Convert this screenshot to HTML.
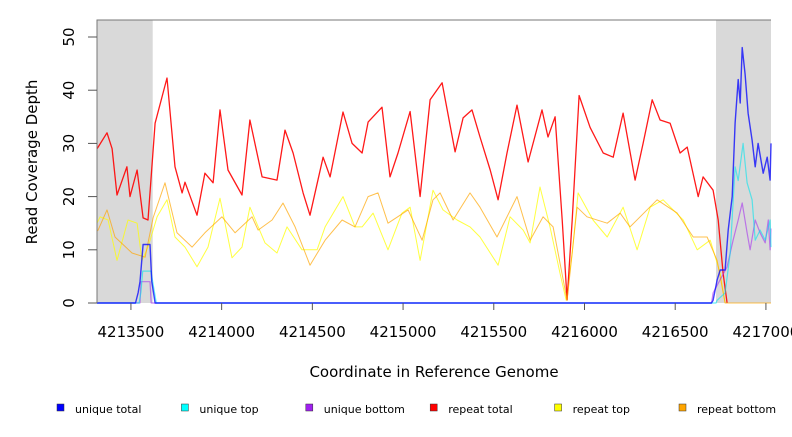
<!DOCTYPE html>
<html><head><meta charset="utf-8"><style>
body{margin:0;background:#fff;width:792px;height:432px;overflow:hidden;font-family:"Liberation Sans","DejaVu Sans",sans-serif}
svg text{font-family:"DejaVu Sans","Liberation Sans",sans-serif}
</style></head><body>
<svg id="chart" width="792" height="432" xmlns="http://www.w3.org/2000/svg">
<rect width="792" height="432" fill="#fff"/>
<g id="shade"></g>
<g id="series" fill="none"></g>
<g id="axes"></g>
<text transform="translate(37,162) rotate(-90)" text-anchor="middle" font-size="15">Read Coverage Depth</text>
<text x="434" y="377" text-anchor="middle" font-size="15">Coordinate in Reference Genome</text>
<g id="legend" font-size="11"></g>
</svg>
<script>
const xTicks=[4213500,4214000,4214500,4215000,4215500,4216000,4216500,4217000];
const yTicks=[0,10,20,30,40,50];
const shadeRanges=[[4213313,4213620],[4216725,4217028]];
const redX=[4213313,4213319,4213368,4213396,4213423,4213478,4213495,4213534,4213567,4213594,4213633,4213699,4213743,4213782,4213798,4213864,4213908,4213953,4213991,4214035,4214112,4214156,4214223,4214305,4214349,4214394,4214449,4214487,4214559,4214598,4214669,4214719,4214774,4214807,4214884,4214928,4214972,4215039,4215094,4215149,4215215,4215287,4215331,4215380,4215424,4215480,4215524,4215573,4215628,4215689,4215766,4215799,4215838,4215877,4215904,4215932,4215970,4216031,4216103,4216158,4216213,4216279,4216323,4216373,4216417,4216472,4216527,4216566,4216627,4216654,4216709,4216737,4216764,4216786];
const redY=[29,29.3,32,29,20.3,25.6,20,25,16,15.6,33.8,42.3,25.6,20.7,22.7,16.5,24.4,22.6,36.3,25,20.3,34.4,23.7,23.1,32.5,28.2,20.7,16.5,27.4,23.7,35.9,30,28.2,34,36.8,23.7,28.2,36,20,38.2,41.4,28.4,34.8,36.3,31.2,25,19.4,28.2,37.2,26.5,36.3,31.2,35,15.6,0.6,15.6,39,33,28.2,27.4,35.7,23.1,30,38.2,34.4,33.8,28.2,29.3,20,23.7,21.2,15.6,5.6,0];
const orangeX=[4213313,4213319,4213368,4213412,4213506,4213578,4213622,4213688,4213754,4213837,4213908,4214002,4214074,4214168,4214201,4214278,4214338,4214405,4214487,4214570,4214664,4214735,4214807,4214862,4214917,4215028,4215105,4215165,4215204,4215276,4215369,4215424,4215518,4215628,4215700,4215772,4215827,4215904,4215959,4216014,4216125,4216196,4216251,4216400,4216511,4216599,4216676,4216731,4216775,4217028];
const orangeY=[13.5,13.7,17.5,12.4,9.4,8.6,16,22.6,13.2,10.5,13.2,16.2,13.2,16.2,13.7,15.6,18.8,14.3,7.1,11.8,15.6,14.3,20,20.7,15,17.5,11.8,19.4,20.7,15.6,20.7,18,12.4,20,11.8,16.2,14.3,0.5,18,16.2,15,16.9,14.3,19.4,16.9,12.4,12.4,8,0,0];
const yellowX=[4213313,4213330,4213374,4213423,4213484,4213534,4213561,4213594,4213644,4213699,4213743,4213798,4213864,4213925,4213991,4214057,4214112,4214156,4214239,4214305,4214360,4214443,4214526,4214570,4214669,4214735,4214774,4214835,4214917,4214994,4215039,4215094,4215165,4215220,4215298,4215369,4215424,4215524,4215590,4215662,4215700,4215755,4215810,4215865,4215899,4215932,4215965,4216047,4216125,4216213,4216290,4216362,4216433,4216544,4216621,4216693,4216748,4216775];
const yellowY=[15,16.2,15.6,8,15.6,15,8,10.5,16.2,19.4,12.4,10.5,6.8,10.5,19.7,8.5,10.5,18,11.3,9.4,14.3,10,10,14.3,20,14.3,14.3,16.9,10,16.9,18,8,21.2,17.5,15.6,14.3,12.4,7.1,16.2,13.7,11.3,21.8,14.3,5.6,0.5,9.4,20.7,15.6,12.4,18,10,18,19.4,15.6,10,11.8,5.6,0];
const blueX=[4213313,4213525,4213540,4213550,4213567,4213605,4213615,4213633,4216700,4216709,4216731,4216748,4216775,4216792,4216814,4216830,4216847,4216858,4216869,4216885,4216902,4216924,4216941,4216957,4216985,4217007,4217023,4217028];
const blueY=[0,0,2,4,11,11,4,0,0,0.5,4.3,6.2,6.2,13.7,20,33.8,42,37.6,48,43,35.7,30.6,25.6,30,24.4,27.4,23.1,30];
const cyanX=[4213313,4213545,4213555,4213565,4213610,4213620,4213640,4216725,4216731,4216775,4216803,4216830,4216847,4216874,4216896,4216924,4216941,4216968,4216996,4217023,4217028];
const cyanY=[0,0,2,6,6,4,0,0,0.5,1.9,9.4,25.6,23,30,22.6,19.4,11.8,13.7,11.8,15.6,10.5];
const purpleX=[4213313,4213550,4213555,4213605,4213612,4216700,4216709,4216786,4216819,4216847,4216869,4216896,4216913,4216941,4216968,4216996,4217013,4217023,4217028];
const purpleY=[0,0,4,4,0,0,1.9,6.8,11.8,15.6,18.8,13.2,10,15.6,13.2,11.3,15.6,10,14];
const legendLabels=["unique total","unique top","unique bottom","repeat total","repeat top","repeat bottom"];
const legendColors=["#0000ff","#00ffff","#a020f0","#ff0000","#ffff00","#ffa500"];

const L=97,R=771,T=20,B=303,X0=4213313,X1=4217028;
const sx=v=>L+(v-X0)/(X1-X0)*(R-L);
const sy=v=>B-v*(B-37)/50;
const NS="http://www.w3.org/2000/svg";
function mk(tag,parent,attrs){const e=document.createElementNS(NS,tag);for(const k in attrs)e.setAttribute(k,attrs[k]);parent.appendChild(e);return e;}
const shade=document.getElementById('shade');
shadeRanges.forEach(r=>{
 const e=mk('rect',shade,{x:sx(r[0]),y:T,width:sx(r[1])-sx(r[0]),height:B-T,fill:'#d9d9d9'});
 
 
});
const sg=document.getElementById('series');
function line(xs,ys,color,op,w,name){
 let d='';xs.forEach((x,i)=>{d+=(i?'L':'M')+sx(x).toFixed(1)+' '+sy(ys[i]).toFixed(1);});
 const p=mk('path',sg,{d:d,stroke:color,'stroke-opacity':op,'stroke-width':w,'stroke-linejoin':'round'});
 
 
}
line(yellowX,yellowY,'#ffff00',0.75,1,'repeat-top-line');
line(redX,redY,'#ff0000',0.9,1.3,'repeat-total-line');
line(orangeX,orangeY,'#ffa500',0.7,1,'repeat-bottom-line');
line(purpleX,purpleY,'#a020f0',0.55,1.2,'unique-bottom-line');
line(cyanX,cyanY,'#00e5ee',0.6,1.2,'unique-top-line');
line(blueX,blueY,'#0000ff',0.75,1.4,'unique-total-line');
const ax=document.getElementById('axes');
mk('path',ax,{d:`M${L} ${B}V${T}H${R}`,stroke:'#777',fill:'none','stroke-width':1});
yTicks.forEach(v=>{
 mk('line',ax,{x1:88,x2:L,y1:sy(v),y2:sy(v),stroke:'#555'});
 const t=mk('text',ax,{transform:`translate(74,${sy(v)}) rotate(-90)`,'text-anchor':'middle','font-size':15});
 t.textContent=v;
 
 
});
xTicks.forEach(v=>{
 mk('line',ax,{x1:sx(v),x2:sx(v),y1:B,y2:310,stroke:'#555'});
 const t=mk('text',ax,{x:sx(v),y:337,'text-anchor':'middle','font-size':15});
 t.textContent=v;
 
 
});
const lg=document.getElementById('legend');
legendLabels.forEach((s,i)=>{
 const x=57+i*124.4;
 const g=mk('g',lg,{});
 
 
 mk('rect',g,{x:x,y:404,width:7,height:7,fill:legendColors[i],stroke:'#333','stroke-width':0.5});
 const t=mk('text',g,{x:x+18,y:413});
 t.textContent=s;
});
</script>
</body></html>
